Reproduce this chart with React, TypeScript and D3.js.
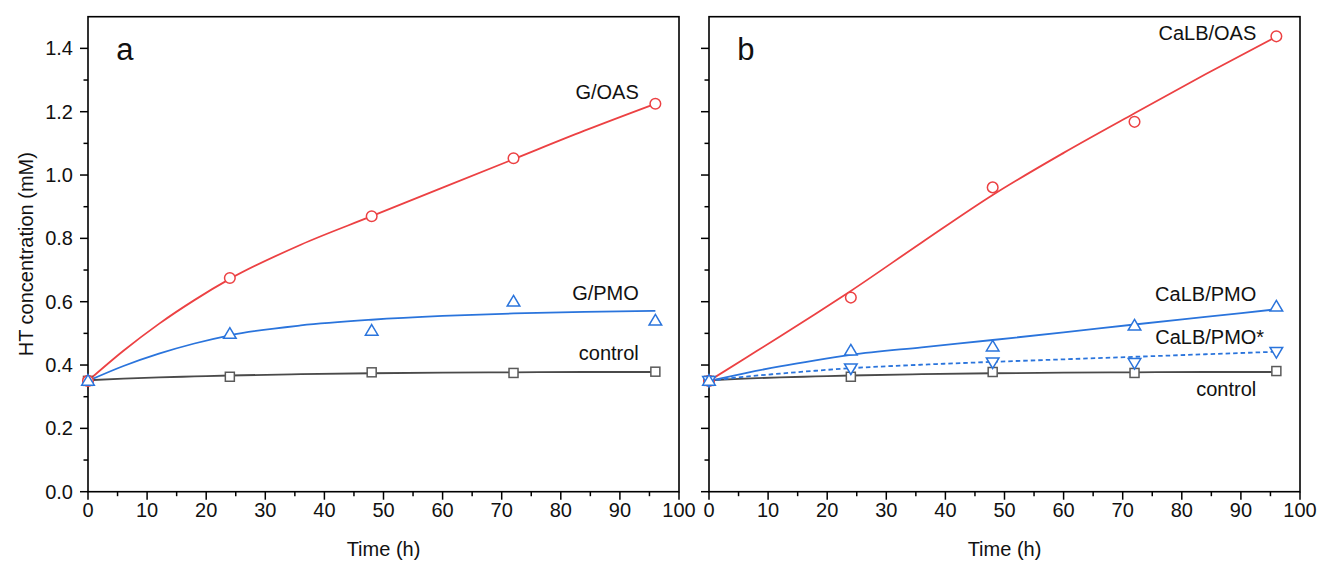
import React from "react";
import * as d3 from "d3";

// ---- data ----
const timePoints = [0, 24, 48, 72, 96];
const fitTimes = [0, 6, 12, 18, 24, 36, 48, 60, 72, 84, 96];

// panel a
const gOAS = [0.35, 0.675, 0.87, 1.053, 1.225];
const gPMO = [0.35, 0.498, 0.508, 0.6, 0.54];
const controlA = [0.35, 0.363, 0.377, 0.375, 0.379];
const gOASFit = [0.35, 0.445, 0.53, 0.605, 0.672, 0.78, 0.87, 0.96, 1.05, 1.14, 1.225];
const gPMOFit = [0.35, 0.397, 0.436, 0.468, 0.494, 0.525, 0.543, 0.555, 0.563, 0.568, 0.571];
const controlFit = [0.352, 0.357, 0.361, 0.364, 0.367, 0.371, 0.374, 0.376, 0.377, 0.378, 0.378];

// panel b
const calbOAS = [0.35, 0.613, 0.961, 1.168, 1.438];
const calbPMO = [0.35, 0.445, 0.458, 0.524, 0.584];
const calbPMOStar = [0.35, 0.39, 0.409, 0.407, 0.442];
const controlB = [0.35, 0.363, 0.378, 0.375, 0.381];
const calbOASFit = [0.35, 0.42, 0.49, 0.561, 0.634, 0.787, 0.937, 1.07, 1.195, 1.318, 1.437];
const calbPMOFit = [0.35, 0.374, 0.396, 0.415, 0.432, 0.456, 0.479, 0.503, 0.528, 0.552, 0.576];
const calbPMOStarFit = [0.35, 0.363, 0.373, 0.382, 0.39, 0.401, 0.41, 0.418, 0.426, 0.434, 0.442];

const xMajorTicks = [0, 10, 20, 30, 40, 50, 60, 70, 80, 90, 100];
const xMinorTicks = [5, 15, 25, 35, 45, 55, 65, 75, 85, 95];
const yMajorTicks = [0, 0.2, 0.4, 0.6, 0.8, 1.0, 1.2, 1.4];
const yMinorTicks = [0.1, 0.3, 0.5, 0.7, 0.9, 1.1, 1.3];

const RED = "#ec4143";
const BLUE = "#2a74dc";
const GRAY_LINE = "#4a4a4a";
const GRAY_MARK = "#5a5a5a";
const FONT = "Arial, 'Liberation Sans', Helvetica, sans-serif";

type Series = {
  values: number[];
  fit: number[];
  color: string;
  marker: "circle" | "up" | "down" | "square";
  dashed?: boolean;
};
type Label = { text: string; t: number; v: number; anchor: "start" | "end" };

const W = 1318;
const H = 563;
const top = 16.7;
const bottom = 491.7;

function Marker({ kind, x, y, color }: { kind: string; x: number; y: number; color: string }) {
  const sw = 1.5;
  if (kind === "circle") return <circle cx={x} cy={y} r={5.3} fill="white" stroke={color} strokeWidth={sw} />;
  if (kind === "square")
    return <rect x={x - 4.5} y={y - 4.5} width={9} height={9} fill="white" stroke={color} strokeWidth={sw} />;
  const hw = 6.3;
  const hh = 5.3;
  if (kind === "up")
    return (
      <path
        d={`M${x},${y - hh - 1}L${x + hw},${y + hh - 1}L${x - hw},${y + hh - 1}Z`}
        fill="white"
        stroke={color}
        strokeWidth={sw}
      />
    );
  return (
    <path
      d={`M${x},${y + hh + 1}L${x + hw},${y - hh + 1}L${x - hw},${y - hh + 1}Z`}
      fill="white"
      stroke={color}
      strokeWidth={sw}
    />
  );
}

function Panel({
  x0,
  x1,
  series,
  labels,
  letter,
  showYLabels,
}: {
  x0: number;
  x1: number;
  series: Series[];
  labels: Label[];
  letter: string;
  showYLabels: boolean;
}) {
  const xs = d3.scaleLinear().domain([0, 100]).range([x0, x1]);
  const ys = d3.scaleLinear().domain([0, 1.5]).range([bottom, top]);
  const line = d3
    .line<number>()
    .x((_, i) => xs(fitTimes[i]))
    .y((d) => ys(d))
    .curve(d3.curveMonotoneX);
  return (
    <g>
      <rect x={x0} y={top} width={x1 - x0} height={bottom - top} fill="none" stroke="#000" strokeWidth={1.6} />
      {xMajorTicks.map((t) => (
        <g key={"xm" + t}>
          <line x1={xs(t)} x2={xs(t)} y1={bottom} y2={bottom + 8} stroke="#000" strokeWidth={1.5} />
          <text x={xs(t)} y={bottom + 25} textAnchor="middle" fontSize={20} fontFamily={FONT} fill="#111">
            {t}
          </text>
        </g>
      ))}
      {xMinorTicks.map((t) => (
        <line key={"xn" + t} x1={xs(t)} x2={xs(t)} y1={bottom} y2={bottom + 4.5} stroke="#000" strokeWidth={1.5} />
      ))}
      {yMajorTicks.map((v) => (
        <g key={"ym" + v}>
          <line x1={x0 - 8} x2={x0} y1={ys(v)} y2={ys(v)} stroke="#000" strokeWidth={1.5} />
          {showYLabels && (
            <text
              x={x0 - 15}
              y={ys(v)}
              dy="0.35em"
              textAnchor="end"
              fontSize={20}
              fontFamily={FONT}
              fill="#111"
            >
              {d3.format(".1f")(v)}
            </text>
          )}
        </g>
      ))}
      {yMinorTicks.map((v) => (
        <line key={"yn" + v} x1={x0 - 4.5} x2={x0} y1={ys(v)} y2={ys(v)} stroke="#000" strokeWidth={1.5} />
      ))}
      <text x={(x0 + x1) / 2} y={bottom + 64} textAnchor="middle" fontSize={20} fontFamily={FONT} fill="#111">
        Time (h)
      </text>
      {series.map((s, i) => (
        <path
          key={"f" + i}
          d={line(s.fit) || ""}
          fill="none"
          stroke={s.color === GRAY_MARK ? GRAY_LINE : s.color}
          strokeWidth={1.8}
          strokeDasharray={s.dashed ? "4.5,3" : undefined}
        />
      ))}
      {series.map((s, i) =>
        s.values.map((v, j) => (
          <Marker key={"m" + i + "-" + j} kind={s.marker} x={xs(timePoints[j])} y={ys(v)} color={s.color} />
        ))
      )}
      {labels.map((l) => (
        <text
          key={l.text}
          x={xs(l.t)}
          y={ys(l.v)}
          dy="0.35em"
          textAnchor={l.anchor}
          fontSize={20}
          fontFamily={FONT}
          fill="#111"
        >
          {l.text}
        </text>
      ))}
      <text x={xs(4.8)} y={60} fontSize={31} fontFamily={FONT} fill="#111">
        {letter}
      </text>
    </g>
  );
}

export default function App() {
  const seriesA: Series[] = [
    { values: controlA, fit: controlFit, color: GRAY_MARK, marker: "square" },
    { values: gOAS, fit: gOASFit, color: RED, marker: "circle" },
    { values: gPMO, fit: gPMOFit, color: BLUE, marker: "up" },
  ];
  const seriesB: Series[] = [
    { values: controlB, fit: controlFit, color: GRAY_MARK, marker: "square" },
    { values: calbOAS, fit: calbOASFit, color: RED, marker: "circle" },
    { values: calbPMOStar, fit: calbPMOStarFit, color: BLUE, marker: "down", dashed: true },
    { values: calbPMO, fit: calbPMOFit, color: BLUE, marker: "up" },
  ];
  const labelsA: Label[] = [
    { text: "G/OAS", t: 93.2, v: 1.262, anchor: "end" },
    { text: "G/PMO", t: 93.2, v: 0.629, anchor: "end" },
    { text: "control", t: 93.2, v: 0.438, anchor: "end" },
  ];
  const labelsB: Label[] = [
    { text: "CaLB/OAS", t: 92.6, v: 1.448, anchor: "end" },
    { text: "CaLB/PMO", t: 92.6, v: 0.624, anchor: "end" },
    { text: "CaLB/PMO*", t: 75.5, v: 0.487, anchor: "start" },
    { text: "control", t: 92.6, v: 0.324, anchor: "end" },
  ];
  return (
    <svg
      width={W}
      height={H}
      viewBox={`0 0 ${W} ${H}`}
      style={{ position: "absolute", left: 0, top: 0, background: "white" }}
    >
      <rect x={0} y={0} width={W} height={H} fill="white" />
      <Panel x0={88} x1={679} series={seriesA} labels={labelsA} letter="a" showYLabels={true} />
      <Panel x0={709} x1={1300} series={seriesB} labels={labelsB} letter="b" showYLabels={false} />
      <text
        transform={`translate(26,${(top + bottom) / 2}) rotate(-90)`}
        textAnchor="middle"
        dy="0.35em"
        fontSize={20}
        fontFamily={FONT}
        fill="#111"
      >
        HT concentration (mM)
      </text>
    </svg>
  );
}
